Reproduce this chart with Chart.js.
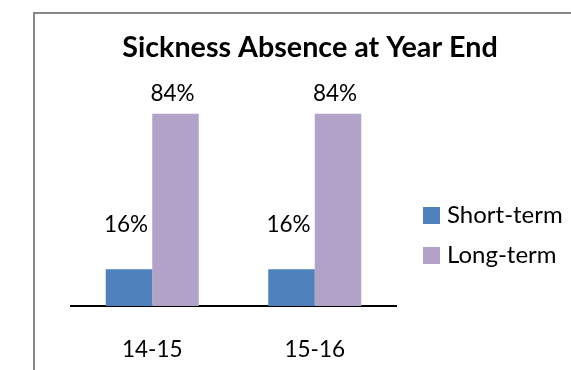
<!DOCTYPE html>
<html>
<head>
<meta charset="utf-8">
<script src="https://cdn.jsdelivr.net/npm/chart.js@4/dist/chart.umd.min.js"></script>
<style>
  html, body { margin: 0; padding: 0; background: #fff; overflow: hidden; }
  #wrap { position: relative; width: 571px; height: 370px; }
  #chart { position: absolute; left: 0; top: 0; }
  #frame {
    position: absolute; left: 33px; top: 12px; width: 700px; height: 500px;
    border-left: 2px solid #878787; border-top: 2px solid #878787;
    pointer-events: none;
  }
</style>
</head>
<body>
<div id="wrap">
  <canvas id="chart" width="571" height="370"></canvas>
  <div id="frame"></div>
</div>
<script>
// Sickness absence split at year end (percent of total absence)
const chartTitle = 'Sickness Absence at Year End';
const categories = ['14-15', '15-16'];
const seriesNames = ['Short-term', 'Long-term'];
const shortTerm = [16, 16];
const longTerm = [84, 84];

const FONT = 'Lato, "Open Sans", sans-serif';
const COLORS = ['#4F81BD', '#B3A2C7'];
// distance from the bar top to the value label baseline, per series
const LABEL_GAP = [37, 13];

const decorations = {
  id: 'decorations',
  afterDatasetsDraw(chart) {
    const ctx = chart.ctx;
    ctx.save();
    ctx.fillStyle = '#000';

    // value labels above each bar
    ctx.font = '22.5px ' + FONT;
    ctx.textAlign = 'center';
    ctx.textBaseline = 'alphabetic';
    chart.data.datasets.forEach((ds, di) => {
      const meta = chart.getDatasetMeta(di);
      meta.data.forEach((bar, i) => {
        ctx.fillText(ds.data[i] + '%', bar.x - 3, bar.y - LABEL_GAP[di]);
      });
    });

    // title
    ctx.font = 'bold 28.7px ' + FONT;
    ctx.fillText(chartTitle, 310, 57);

    // legend on the right
    ctx.font = '24px ' + FONT;
    ctx.textAlign = 'left';
    chart.data.datasets.forEach((ds, di) => {
      const y = 207 + di * 40;
      ctx.fillStyle = ds.backgroundColor;
      ctx.fillRect(423, y, 17, 17);
      ctx.fillStyle = '#000';
      ctx.fillText(ds.label, 447, y + 16);
    });
    ctx.restore();
  }
};

new Chart(document.getElementById('chart'), {
  type: 'bar',
  data: {
    labels: categories,
    datasets: [
      { label: seriesNames[0], data: shortTerm, backgroundColor: COLORS[0] },
      { label: seriesNames[1], data: longTerm, backgroundColor: COLORS[1] }
    ]
  },
  options: {
    responsive: false,
    animation: false,
    devicePixelRatio: 1,
    layout: { padding: { left: 71, right: 175, top: 77, bottom: 0 } },
    datasets: { bar: { categoryPercentage: 0.5723, barPercentage: 1.0, borderWidth: 0 } },
    plugins: {
      legend: { display: false },
      title: { display: false },
      tooltip: { enabled: false }
    },
    scales: {
      x: {
        grid: { display: false, drawTicks: false },
        border: { display: true, color: '#000', width: 2 },
        ticks: { color: '#000', font: { family: FONT, size: 22.5 }, padding: 30 },
        afterFit(scale) { scale.height = 64; }
      },
      y: {
        display: false,
        min: 0,
        max: 100
      }
    }
  },
  plugins: [decorations]
});
</script>
</body>
</html>
